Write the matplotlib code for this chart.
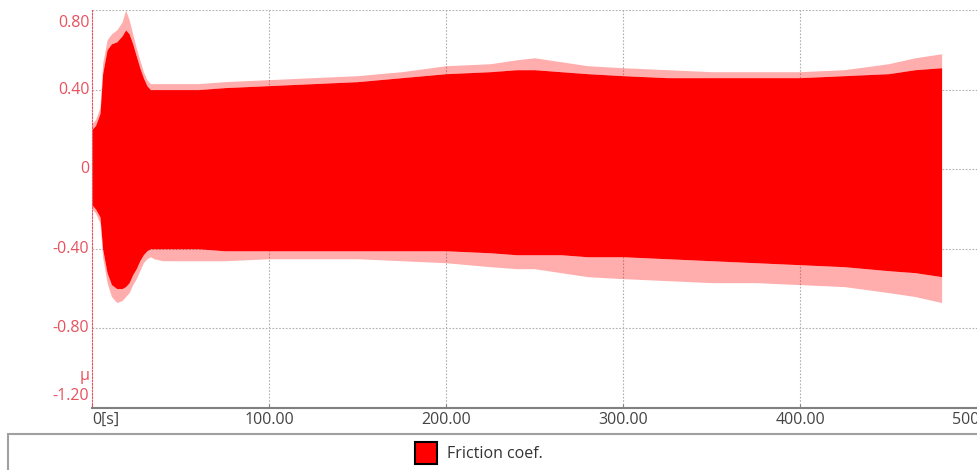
import matplotlib
matplotlib.use("Agg")
import matplotlib.pyplot as plt
from matplotlib.patches import Rectangle
from matplotlib import transforms

plt.rcParams['font.family'] = ['Open Sans', 'DejaVu Sans']

# Envelope of the friction coefficient signal
t_env = [0, 2, 4.5, 6, 8.5, 11, 14, 17, 19, 21, 23, 25, 27, 29, 31, 33, 35,
         40, 50, 60, 75, 100, 125, 150, 175, 200, 225, 240, 250, 265, 280,
         300, 325, 350, 375, 400, 425, 450, 465, 480]
upper_core = [0.20, 0.22, 0.28, 0.48, 0.60, 0.63, 0.64, 0.67, 0.70, 0.68, 0.63,
              0.57, 0.51, 0.46, 0.42, 0.40, 0.40, 0.40, 0.40, 0.40, 0.41, 0.42,
              0.43, 0.44, 0.46, 0.48, 0.49, 0.50, 0.50, 0.49, 0.48, 0.47, 0.46,
              0.46, 0.46, 0.46, 0.47, 0.48, 0.50, 0.51]
upper_peak = [0.23, 0.25, 0.31, 0.53, 0.65, 0.68, 0.70, 0.74, 0.80, 0.75, 0.68,
              0.61, 0.55, 0.49, 0.45, 0.43, 0.43, 0.43, 0.43, 0.43, 0.44, 0.45,
              0.46, 0.47, 0.49, 0.52, 0.53, 0.55, 0.56, 0.54, 0.52, 0.51, 0.50,
              0.49, 0.49, 0.49, 0.50, 0.53, 0.56, 0.58]
lower_core = [-0.18, -0.20, -0.24, -0.40, -0.52, -0.58, -0.60, -0.60, -0.59,
              -0.57, -0.53, -0.50, -0.46, -0.43, -0.41, -0.40, -0.40, -0.40,
              -0.40, -0.40, -0.41, -0.41, -0.41, -0.41, -0.41, -0.41, -0.42,
              -0.43, -0.43, -0.43, -0.44, -0.44, -0.45, -0.46, -0.47, -0.48,
              -0.49, -0.51, -0.52, -0.54]
lower_peak = [-0.20, -0.22, -0.27, -0.44, -0.57, -0.64, -0.67, -0.66, -0.64,
              -0.62, -0.58, -0.55, -0.51, -0.47, -0.45, -0.44, -0.45, -0.46,
              -0.46, -0.46, -0.46, -0.45, -0.45, -0.45, -0.46, -0.47, -0.49,
              -0.50, -0.50, -0.52, -0.54, -0.55, -0.56, -0.57, -0.57, -0.58,
              -0.59, -0.62, -0.64, -0.67]

x_ticks = [0, 100, 200, 300, 400, 500]
x_labels = ["0[s]", "100.00", "200.00", "300.00", "400.00", "500.00"]
y_ticks = [0.8, 0.4, 0, -0.4, -0.8, -1.2]
y_labels = ["0.80", "0.40", "0", "-0.40", "-0.80", "-1.20"]
legend_label = "Friction coef."

RED = "#ff0000"
TICK_RED = "#e8525e"
GRAY_TXT = "#444444"

fig = plt.figure(figsize=(9.77, 4.70), dpi=100)
ax = fig.add_axes([92/977, 1 - 408/470, 1 - 92/977, (408 - 10)/470])
ax.set_xlim(0, 500)
ax.set_ylim(-1.2, 0.8)

ax.fill_between(t_env, upper_core, upper_peak, color=RED, alpha=0.32, lw=0)
ax.fill_between(t_env, lower_peak, lower_core, color=RED, alpha=0.32, lw=0)
ax.fill_between(t_env, lower_core, upper_core, color=RED, lw=0)

# grid
for xv in x_ticks[1:-1]:
    ax.axvline(xv, color="#b0b0b0", lw=0.8, ls=(0, (1.5, 1.5)), zorder=0)
for yv in y_ticks[:-1]:
    ax.axhline(yv, color="#b0b0b0", lw=0.8, ls=(0, (1.5, 1.5)), zorder=0)

for s in ["top", "right"]:
    ax.spines[s].set_visible(False)
ax.spines["left"].set_color(TICK_RED)
ax.spines["left"].set_linestyle((0, (1.5, 1.5)))
ax.spines["left"].set_linewidth(0.8)
ax.spines["bottom"].set_color("#808080")
ax.spines["bottom"].set_linewidth(1.5)

ax.set_xticks(x_ticks)
ax.set_xticklabels(x_labels, color=GRAY_TXT, fontsize=11.5)
ax.get_xticklabels()[0].set_horizontalalignment("left")
ax.tick_params(axis="x", length=3, color="#808080", pad=3, direction="in")

ax.set_yticks(y_ticks)
ax.set_yticklabels([])
ax.tick_params(axis="y", length=0)
ytr = transforms.blended_transform_factory(ax.transAxes, ax.transData)
for yv, lab in zip(y_ticks, y_labels):
    off = 0.0
    if yv == 0.8:
        off = -0.065
    elif yv == -1.2:
        off = 0.06
    ax.text(-0.003, yv + off, lab, transform=ytr, ha="right", va="center",
            color=TICK_RED, fontsize=11.5)
ax.text(-0.003, -1.04, "μ", transform=ytr, ha="right", va="center",
        color=TICK_RED, fontsize=11.5)

# legend box
fig.patches.append(Rectangle((8/977, -0.05), 1.0, 1 - 434/470 + 0.05,
                             transform=fig.transFigure, fill=False,
                             edgecolor="#a0a0a0", lw=1.5))
fig.patches.append(Rectangle((415/977, 1 - 464/470), 22/977, 22/470,
                             transform=fig.transFigure, facecolor=RED,
                             edgecolor="black", lw=1.5))
fig.text(447/977, 1 - 454/470, legend_label, ha="left", va="center",
         color="#333333", fontsize=11.5)

fig.savefig("out.png", dpi=100)
